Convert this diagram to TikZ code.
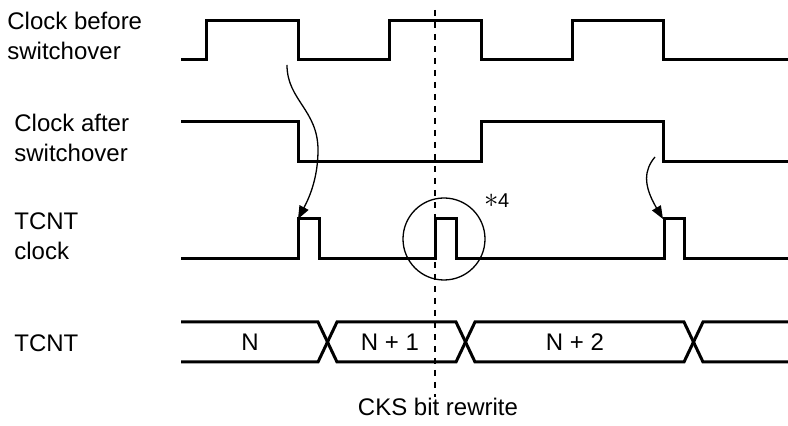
\documentclass[tikz,border=0pt]{standalone}
\usepackage{fontspec}
\setmainfont{Liberation Sans}
\usetikzlibrary{arrows.meta}

\begin{document}
\begin{tikzpicture}[x=0.5pt,y=-0.5pt,
  wave/.style={line width=1.5pt},
  guide/.style={line width=1pt,dash pattern=on 3pt off 3pt},
  sig/.style={font=\fontsize{12}{15}\selectfont,align=left,anchor=base west,inner sep=0pt},
  val/.style={font=\fontsize{12}{15}\selectfont,inner sep=0pt},
  curve/.style={line width=0.65pt,-{Triangle[length=6.5pt,width=5pt]}}]
\useasboundingbox (0,0) rectangle (788,426);
% signal names (base = last line)
\node[sig] (lbefore) at (7,60) {Clock before\\switchover};
\node[sig] (lafter) at (14,162) {Clock after\\switchover};
\node[sig] (lclk) at (14,260) {TCNT\\clock};
\node[sig] (lcnt) at (14,352) {TCNT};
% clocks
\draw[wave] (181,60) -- (206,60) -- (206,21) -- (298,21) -- (298,60) -- (389,60) -- (389,21) -- (481,21) -- (481,60) -- (572,60) -- (572,21) -- (663,21) -- (663,60) -- (788,60);
\draw[wave] (181,122) -- (298,122) -- (298,162) -- (481,162) -- (481,122) -- (663,122) -- (663,162) -- (788,162);
\draw[wave] (181,259) -- (298,259) -- (298,219) -- (319,219) -- (319,259) -- (435,259) -- (435,219) -- (456,219) -- (456,259) -- (664,259) -- (664,219) -- (684,219) -- (684,259) -- (788,259);
% counter bus
\draw[wave] (181,322) -- (318,322) -- (337,362) -- (456,362) -- (475,322) -- (684,322) -- (703,362) -- (788,362);
\draw[wave] (181,362) -- (318,362) -- (337,322) -- (456,322) -- (475,362) -- (684,362) -- (703,322) -- (788,322);
\node[val] (vn) at (250,342) {N};
\node[val] (vn1) at (390,342) {N + 1};
\node[val] (vn2) at (575,342) {N + 2};
% rewrite point
\coordinate (rwtop) at (435,10);
\coordinate (rwbot) at (435,397);
\node[val,anchor=base] (rw) at (438,416) {CKS bit rewrite};
\draw[guide] (rwtop) -- (rwbot);
\node[draw,circle,line width=0.65pt,minimum size=41pt,inner sep=0pt] (glitch) at (444,239) {};
\node[font=\fontsize{10}{12}\selectfont,inner sep=0pt] (note) at (497,201) {{\fontsize{15}{15}\selectfont$\ast$}\kern-0.5pt 4};
% edge arrows
\coordinate (a1s) at (287,65);
\coordinate (a1e) at (298,219);
\draw[curve] (a1s) .. controls (287,100) and (318,110) .. (318,150) .. controls (318,180) and (308,200) .. (a1e);
\coordinate (a2s) at (655,157);
\coordinate (a2e) at (663,219);
\draw[curve] (a2s) .. controls (644,170) and (643,185) .. (a2e);
\end{tikzpicture}
\end{document}
